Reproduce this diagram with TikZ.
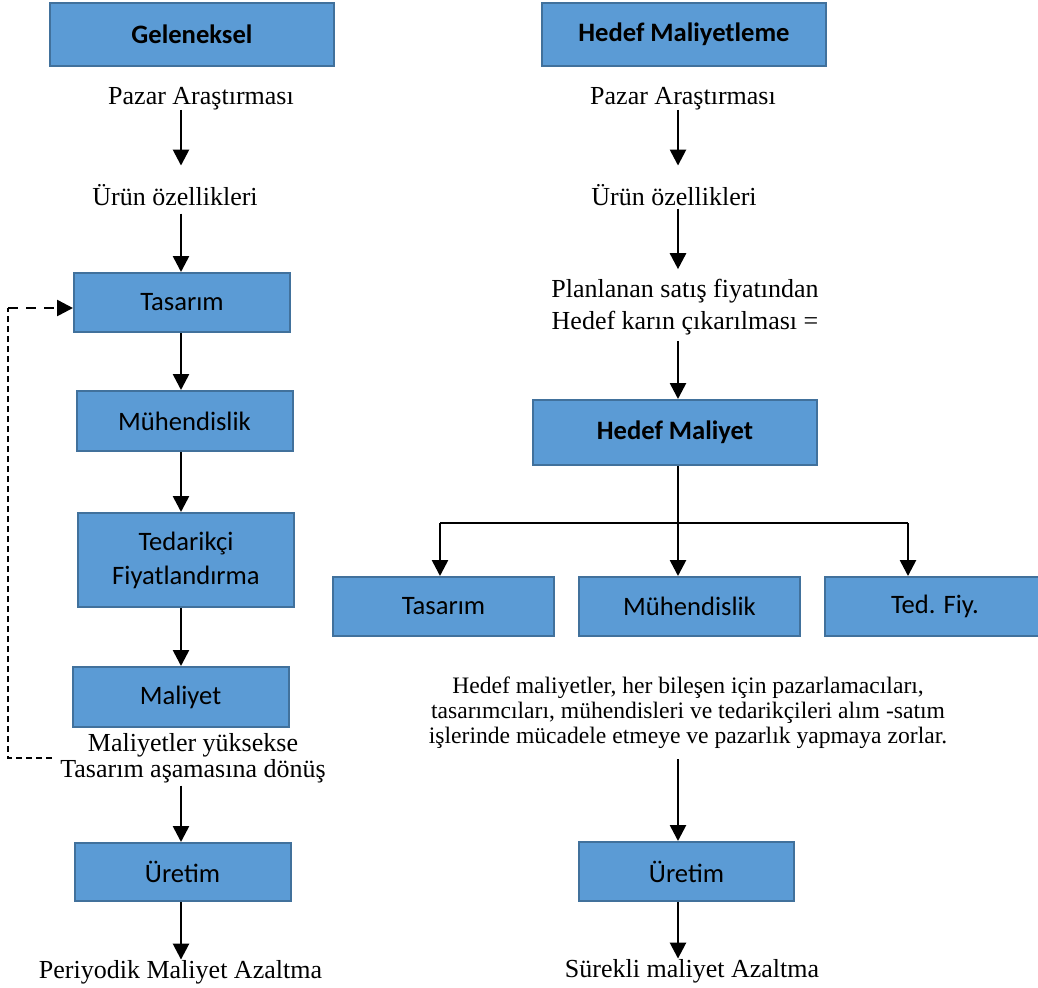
\documentclass[tikz,border=0pt]{standalone}
\usepackage{fontspec}
\setmainfont{Liberation Serif}
\newfontfamily\boxfont{Carlito}
\usetikzlibrary{arrows.meta,calc}
\definecolor{boxfill}{HTML}{5B9BD5}
\definecolor{boxline}{HTML}{41719C}
\begin{document}
\begin{tikzpicture}[x=0.5pt,y=-0.5pt,
  stepbox/.style={draw=boxline, fill=boxfill, line width=1pt, inner sep=0pt,
    minimum width=108pt, minimum height=29.5pt, align=center,
    font=\boxfont\fontsize{13.3}{17}\selectfont},
  plain/.style={inner sep=0pt, font=\fontsize{13}{15}\selectfont},
  arr/.style={line width=1.3pt, -{Triangle[width=8pt,length=8pt]}},
  thinline/.style={line width=0.6pt},
  hline/.style={line width=0.9pt},
  backdash/.style={line width=0.6pt, dash pattern=on 3pt off 2pt},
  fwddash/.style={line width=1.3pt, dash pattern=on 5pt off 4pt, -{Triangle[width=8pt,length=8pt]}}
]
\useasboundingbox (0,0) rectangle (1038,987);

% guide lines for the two columns of arrows
\coordinate (lx) at (181,0);
\coordinate (rx) at (678,0);

% ---------- left column: traditional costing ----------
\node[stepbox, minimum width=142pt, minimum height=31.5pt] (gel) at (192,34.5) {\bfseries Geleneksel};
\node[plain, anchor=base] (pazarL) at (201,104) {Pazar Araştırması};
\node[plain, anchor=base] (urunL) at (175,205) {Ürün özellikleri};
\node[stepbox] (tasL) at (182,302.5) {Tasarım};
\node[stepbox, minimum height=30pt] (muhL) at (184.5,421) {Mühendislik};
\node[stepbox, minimum height=47pt] (tedL) at (186,560) {Tedarikçi\\Fiyatlandırma};
\node[stepbox, minimum height=30pt] (malL) at (180.5,697) {Maliyet};
\node[plain, align=center, font=\fontsize{13}{13}\selectfont] (donus) at (193,758.5) {Maliyetler yüksekse\\Tasarım aşamasına dönüş};
\node[stepbox, minimum height=29pt] (uretL) at (182.5,872) {Üretim};
\node[plain, anchor=base] (perL) at (180.5,978) {Periyodik Maliyet Azaltma};

\draw[arr] (pazarL.south -| lx) -- ($(urunL.north -| lx)+(0,-18)$);
\draw[arr] ($(urunL.south -| lx)+(0,8)$) -- (tasL.north -| lx);
\draw[arr] (tasL.south -| lx) -- (muhL.north -| lx);
\draw[arr] (muhL.south -| lx) -- (tedL.north -| lx);
\draw[arr] (tedL.south -| lx) -- (malL.north -| lx);
\draw[arr] ($(donus.south -| lx)+(0,2)$) -- (uretL.north -| lx);
\draw[arr] (uretL.south -| lx) -- (perL.north -| lx);

% feedback loop back to the design stage
\coordinate (dA) at (52,758);
\coordinate (dB) at (8,758);
\coordinate (dC) at (8,308);
\draw[backdash] (dA) -- (dB) -- (dC);
\draw[fwddash] (dC) -- (tasL.west |- dC);

% ---------- right column: target costing ----------
\node[stepbox, minimum width=142pt, minimum height=31.5pt] (hm) at (684,34.5) {\bfseries Hedef Maliyetleme};
\node[plain, anchor=base] (pazarR) at (683,104) {Pazar Araştırması};
\node[plain, anchor=base] (urunR) at (674,205) {Ürün özellikleri};
\node[plain, align=center, font=\fontsize{13}{16}\selectfont] (plan) at (685,307.5) {Planlanan satış fiyatından\\Hedef karın çıkarılması =};
\node[stepbox, minimum width=142pt, minimum height=32.5pt] (hmal) at (675,432.5) {\bfseries Hedef Maliyet};
\node[stepbox, minimum width=110.5pt] (tasR) at (443.5,606.5) {Tasarım};
\node[stepbox, minimum width=110.5pt] (muhR) at (689.5,606.5) {Mühendislik};
\node[stepbox, minimum width=110.5pt] (tedR) at (935,606.5) {Ted. Fiy.};
\node[plain, align=center, font=\fontsize{11.8}{12.6}\selectfont] (para) at (688,713)
  {Hedef maliyetler, her bileşen için pazarlamacıları,\\tasarımcıları, mühendisleri ve tedarikçileri alım -satım\\işlerinde mücadele etmeye ve pazarlık yapmaya zorlar.};
\node[stepbox, minimum width=107.5pt] (uretR) at (686.5,871.5) {Üretim};
\node[plain, anchor=base] (surR) at (692,977) {Sürekli maliyet Azaltma};

\draw[arr] (pazarR.south -| rx) -- ($(urunR.north -| rx)+(0,-18)$);
\draw[arr] ($(urunR.south -| rx)+(0,3)$) -- ($(plan.north -| rx)+(0,-10)$);
\draw[arr] ($(plan.south -| rx)+(0,5)$) -- (hmal.north -| rx);

% distribution of the target cost to the three functions
\coordinate (bl) at (440,523);
\coordinate (bm) at (678,523);
\coordinate (br) at (908,523);
\draw[thinline] (hmal.south -| rx) -- (bm);
\draw[hline] (bl) -- (br);
\draw[arr] (bl) -- (tasR.north -| bl);
\draw[arr] (bm) -- (muhR.north -| bm);
\draw[arr] (br) -- (tedR.north -| br);

\draw[arr] ($(para.south -| rx)+(0,10)$) -- (uretR.north -| rx);
\draw[arr] (uretR.south -| rx) -- (surR.north -| rx);
\end{tikzpicture}
\end{document}
